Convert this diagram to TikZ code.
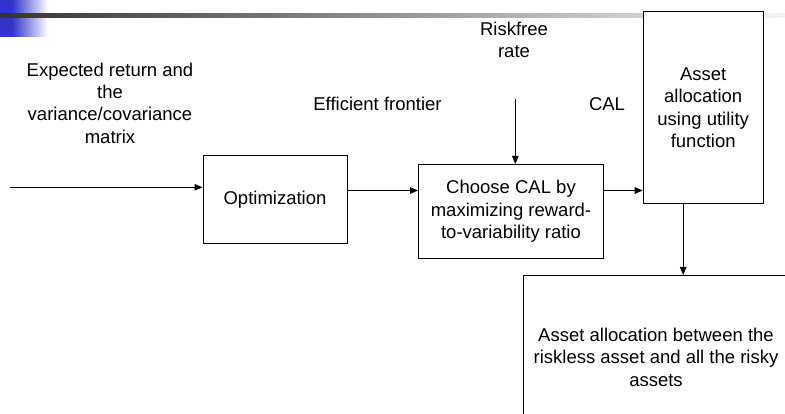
\documentclass[tikz,border=0pt]{standalone}
\usepackage{fontspec}
\setmainfont{Liberation Sans}
\usetikzlibrary{arrows.meta}
\definecolor{slideblue}{HTML}{3333CC}
\definecolor{rulestart}{HTML}{333333}
\definecolor{ruleend}{HTML}{F4F4F4}
\begin{document}
\begin{tikzpicture}[x=1pt,y=-1pt,
  every node/.style={font=\fontsize{18.5}{22.4}\selectfont, inner sep=0pt, align=center},
  box/.style={draw, line width=1pt, anchor=north west, fill=white},
  link/.style={line width=1pt, -{Triangle[length=8pt,width=6.5pt]}}]
\useasboundingbox (0,0) rectangle (785,414);
% slide decoration
\fill[slideblue] (0,0) rectangle (12,37);
\shade[left color=slideblue, right color=white] (12,0) rectangle (48,37);
\shade[left color=rulestart, right color=ruleend] (0,14) rectangle (785,17.5);
% boxes
\node[box, minimum width=144pt, minimum height=88pt] (opt) at (202.5,155.5) {Optimization};
\node[box, minimum width=185pt, minimum height=94pt] (choose) at (418,164) {Choose CAL by\\maximizing reward-\\to-variability ratio};
\node[box, minimum width=120pt, minimum height=192pt] (asset) at (642.7,11.3) {Asset\\allocation\\using utility\\function};
\node[box, minimum width=265pt, minimum height=163pt] (final) at (523,275) {Asset allocation between the\\riskless asset and all the risky\\assets};
% labels (base = baseline of last line)
\node[anchor=base] (inputs) at (110,143.3) {Expected return and\\the\\variance/covariance\\matrix};
\node[anchor=base] (rf) at (514,58) {Riskfree\\rate};
\node[anchor=base] (ef) at (377.5,111) {Efficient frontier};
\node[anchor=base] (cal) at (607,111) {CAL};
% connectors
\coordinate (in0) at (10,187.3);
\draw[link] (in0) -- (in0 -| opt.west);
\coordinate (a1) at ([yshift=9.5pt]opt.east);
\draw[link] (a1) -- (a1 -| choose.west);
\coordinate (a2) at ([yshift=21pt]choose.east);
\draw[link] (a2) -- (a2 -| asset.west);
\coordinate (rftop) at (515.3,99.3);
\draw[link] (rftop) -- (rftop |- choose.north);
\coordinate (a3) at ([xshift=-20pt]asset.south);
\draw[link] (a3) -- (a3 |- final.north);
\end{tikzpicture}
\end{document}
